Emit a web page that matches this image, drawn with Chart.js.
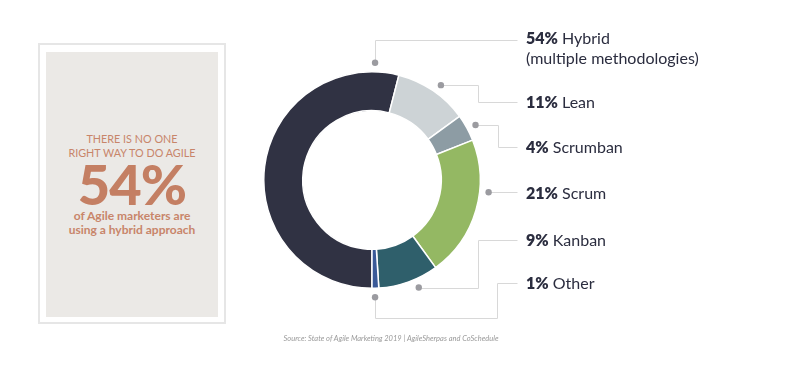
<!DOCTYPE html>
<html>
<head>
<meta charset="utf-8">
<script src="https://cdn.jsdelivr.net/npm/chart.js@4.4.1/dist/chart.umd.min.js"></script>
<style>
  html, body { margin: 0; padding: 0; background: #fff; }
  #wrap { position: relative; width: 800px; height: 374px; overflow: hidden; font-family: Lato, "Open Sans", sans-serif; }
  #chart { position: absolute; left: 0; top: 0; }
  .panel { position: absolute; left: 38px; top: 43px; width: 184px; height: 277px; border: 2px solid #e6e6e6; background: #fff; }
  .panel-inner { position: absolute; left: 6px; top: 7px; right: 6px; bottom: 5px; background: #ebe9e6; color: #c8856a; text-align: center; }
  .kicker { position: absolute; left: 0; right: 0; top: 80px; font-size: 10.8px; line-height: 14px; font-weight: 400; }
  .big { position: absolute; left: 0; right: 0; top: 104px; font-size: 56px; line-height: 56px; font-weight: 900; color: #c47f63; letter-spacing: -1px; }
  .sub { position: absolute; left: 0; right: 0; top: 157px; font-size: 12px; line-height: 14px; font-weight: 700; }
  .lbl { position: absolute; left: 526px; font-size: 16px; line-height: 20px; color: #2b2d3f; white-space: nowrap; }
  .lbl b { font-weight: 800; }
  .source { position: absolute; left: 0; width: 782px; top: 334px; text-align: center; font-size: 7.5px; font-style: italic; color: #9a9a9a; }
</style>
</head>
<body>
<div id="wrap">
  <canvas id="chart" width="800" height="374"></canvas>
  <div class="panel"><div class="panel-inner">
    <div class="kicker">THERE IS NO ONE<br>RIGHT WAY TO DO AGILE</div>
    <div class="big">54%</div>
    <div class="sub">of Agile marketers are<br>using a hybrid approach</div>
  </div></div>
  <div id="labels"></div>
  <div class="source">Source: State of Agile Marketing 2019 | AgileSherpas and CoSchedule</div>
</div>
<script>
// data
const categories = ['Hybrid', 'Lean', 'Scrumban', 'Scrum', 'Kanban', 'Other'];
const shares = [54, 11, 4, 21, 9, 1];
const notes = ['(multiple methodologies)', '', '', '', '', ''];

// styles / callout layout
const sliceColors = ['#303243', '#cdd3d6', '#8d9ca4', '#94b863', '#2f5f6b', '#3a5a98'];
const calloutAngle = [1.5, 36, 62, 96, 156.5, 178.5];   // degrees clockwise from top
const calloutY = [40, 102, 147, 193, 240, 283];
const calloutElbow = [null, 478, 498, null, 478, 497];
const calloutBelow = [null, null, null, null, null, 318];
const lineEndX = 517;

// html labels
const labelBox = document.getElementById('labels');
categories.forEach((c, i) => {
    const d = document.createElement('div');
    d.className = 'lbl';
    d.style.top = (calloutY[i] - (i === 0 ? 12 : 10)) + 'px';
    d.innerHTML = `<b>${shares[i]}%</b> ${c}` + (notes[i] ? `<br>${notes[i]}` : '');
    labelBox.appendChild(d);
});

const callouts = {
    id: 'callouts',
    afterDraw(chart) {
        const arc = chart.getDatasetMeta(0).data[0];
        if (!arc) return;
        const ctx = chart.ctx;
        const cx = arc.x, cy = arc.y, r = arc.outerRadius + 9;
        ctx.save();
        categories.forEach((c, i) => {
            const a = calloutAngle[i] * Math.PI / 180;
            const dx = cx + r * Math.sin(a);
            const dy = cy - r * Math.cos(a);
            const y = calloutY[i];
            let pts;
            if (i === 0) {
                pts = [[dx, dy], [dx, y], [lineEndX, y]];
            } else if (calloutBelow[i]) {
                const b = calloutBelow[i], e = calloutElbow[i];
                pts = [[dx, dy], [dx, b], [e, b], [e, y], [lineEndX, y]];
            } else if (calloutElbow[i]) {
                const e = calloutElbow[i];
                pts = [[dx, dy], [e, dy], [e, y], [lineEndX, y]];
            } else {
                pts = [[dx, dy], [lineEndX, dy]];
            }
            ctx.strokeStyle = '#d8d8d8';
            ctx.lineWidth = 1;
            ctx.beginPath();
            pts.forEach((p, k) => {
                const px = Math.round(p[0]) + 0.5, py = Math.round(p[1]) + 0.5;
                if (k === 0) ctx.moveTo(px, py); else ctx.lineTo(px, py);
            });
            ctx.stroke();
            ctx.fillStyle = '#9b9ba0';
            ctx.beginPath();
            ctx.arc(dx, dy, 3.2, 0, Math.PI * 2);
            ctx.fill();
        });
        ctx.restore();
    }
};

new Chart(document.getElementById('chart'), {
    type: 'doughnut',
    data: {
        labels: categories,
        datasets: [{
            data: shares,
            backgroundColor: sliceColors,
            borderColor: '#ffffff',
            borderWidth: 1.5
        }]
    },
    options: {
        responsive: false,
        animation: false,
        rotation: 180,
        cutout: '64%',
        layout: { padding: { left: 263, right: 319, top: 71, bottom: 85 } },
        plugins: {
            legend: { display: false },
            tooltip: { enabled: false }
        }
    },
    plugins: [callouts]
});
</script>
</body>
</html>
